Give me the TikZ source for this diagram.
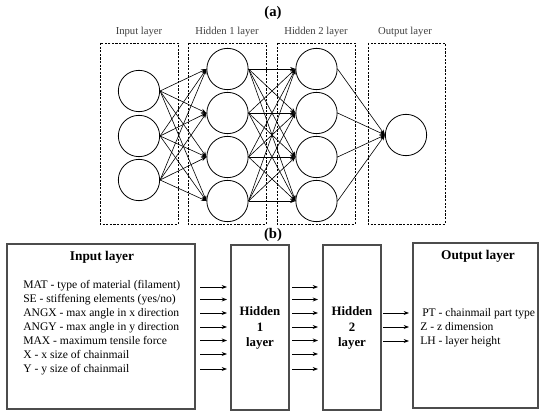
\documentclass[tikz,border=0pt]{standalone}
\usepackage{fontspec}
\setmainfont{Liberation Serif}
\usetikzlibrary{arrows.meta}
\begin{document}
\begin{tikzpicture}[x=0.75pt,y=-0.75pt,
  neuron/.style={circle,draw,line width=0.6pt,minimum size=31pt,inner sep=0pt},
  layerbox/.style={draw,dash pattern=on 1.6pt off 1.1pt,line width=0.6pt},
  conn/.style={-{Stealth[length=4pt,width=3pt]},line width=0.45pt},
  barrow/.style={-{Stealth[length=4pt,width=3pt]},line width=0.7pt},
  toplabel/.style={font=\fontsize{8}{9.5}\selectfont,text=black!75,inner sep=0pt},
  partlabel/.style={font=\fontsize{11}{13}\selectfont\bfseries,inner sep=0pt},
  blockbox/.style={draw=black!70,line width=0.9pt},
  item/.style={font=\fontsize{8.7}{10.5}\selectfont,anchor=base west,inner sep=0pt},
  title/.style={font=\fontsize{10}{12}\selectfont\bfseries,inner sep=0pt},
  hidtext/.style={font=\fontsize{9.6}{11.5}\selectfont\bfseries,align=center,inner sep=0pt}
]
\useasboundingbox (0,0) rectangle (550,417);

% ---------- (a) ----------
\node[partlabel] (pa) at (273,13) {(a)};
\node[toplabel] (la) at (139,31.5) {Input layer};
\node[toplabel] (lb) at (227,31.5) {Hidden 1 layer};
\node[toplabel] (lc) at (316,31.5) {Hidden 2 layer};
\node[toplabel] (ld) at (405,31.5) {Output layer};

\draw[layerbox] (100,43) rectangle (178,224);
\draw[layerbox] (188,43) rectangle (266,224);
\draw[layerbox] (277,43) rectangle (355,224);
\draw[layerbox] (368,43) rectangle (445,224);

\node[neuron] (i1) at (139,91) {};
\node[neuron] (i2) at (139,136) {};
\node[neuron] (i3) at (139,180) {};
\foreach \k/\yy in {1/69,2/113,3/157,4/201}{
  \node[neuron] (h\k) at (227.5,\yy) {};
  \node[neuron] (g\k) at (316.5,\yy) {};
}
\node[neuron] (o1) at (406,135) {};

\foreach \a in {1,2,3}{
  \foreach \b in {1,2,3,4}{
    \draw[conn] (i\a.east) -- (h\b.west);
  }
}
\foreach \a in {1,2,3,4}{
  \foreach \b in {1,2,3,4}{
    \draw[conn] (h\a.east) -- (g\b.west);
  }
  \draw[conn] (g\a.east) -- (o1.west);
}

% ---------- (b) ----------
\node[partlabel] (pb) at (273,235) {(b)};

\draw[blockbox] (7,244) rectangle (195,409);
\draw[blockbox] (231,245) rectangle (289,410);
\draw[blockbox] (323,245) rectangle (381,410);
\draw[blockbox] (413,243) rectangle (538,408);

\node[title] (tin) at (102,257) {Input layer};
\node[title] (tout) at (478,256) {Output layer};

\node[item] (t1) at (23,288.5) {MAT - type of material (filament)};
\node[item] (t2) at (23,302.5) {SE - stiffening elements (yes/no)};
\node[item] (t3) at (23,316.5) {ANGX - max angle in x direction};
\node[item] (t4) at (23,330.5) {ANGY - max angle in y direction};
\node[item] (t5) at (23,344.5) {MAX - maximum tensile force};
\node[item] (t6) at (23,358.5) {X - x size of chainmail};
\node[item] (t7) at (23,372.5) {Y - y size of chainmail};

\node[hidtext] (hb1) at (260,328) {Hidden\\1\\layer};
\node[hidtext] (hb2) at (352,328) {Hidden\\2\\layer};

\foreach \k/\yy in {1/287,2/299.5,3/313,4/327,5/340.5,6/354,7/369}{
  \coordinate (as\k) at (200,\yy);
  \coordinate (ae\k) at (227,\yy);
  \coordinate (bs\k) at (292,\yy);
  \coordinate (be\k) at (318,\yy);
  \draw[barrow] (as\k) -- (ae\k);
  \draw[barrow] (bs\k) -- (be\k);
}
\foreach \k/\yy in {1/313,2/327,3/341}{
  \coordinate (cs\k) at (383,\yy);
  \coordinate (ce\k) at (409,\yy);
  \draw[barrow] (cs\k) -- (ce\k);
}
\node[item] (u1) at (422,316.5) {PT - chainmail part type};
\node[item] (u2) at (420,330.5) {Z - z dimension};
\node[item] (u3) at (420,344.5) {LH - layer height};
\end{tikzpicture}
\end{document}
